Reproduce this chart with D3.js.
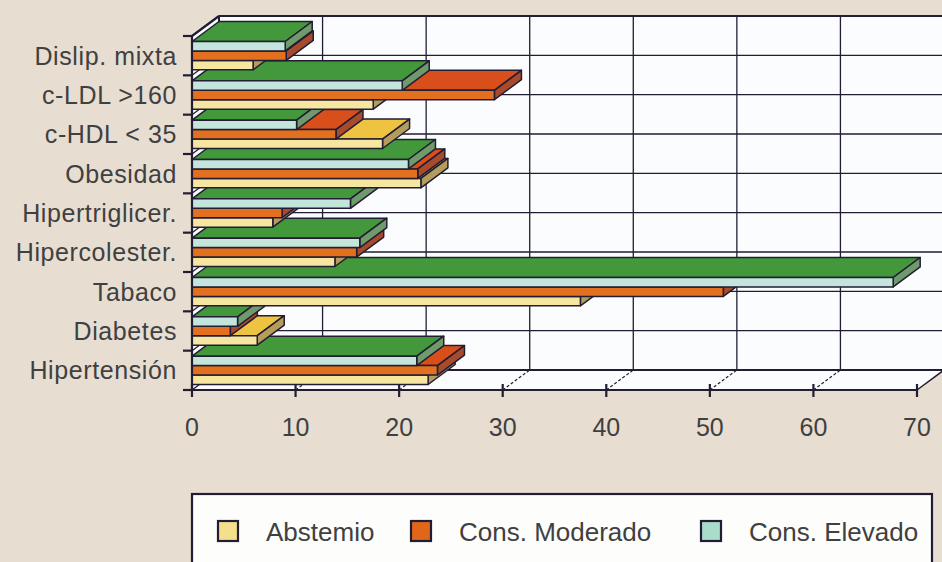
<!DOCTYPE html>
<html>
<head>
<meta charset="utf-8">
<script src="https://cdn.jsdelivr.net/npm/d3@7"></script>
<style>
  body { margin: 0; background: #e7ddd1; }
  text { font-family: "Liberation Sans", Arial, sans-serif; fill: #404040; }
</style>
</head>
<body>
<script>
// categorias de arriba hacia abajo
var categories = ["Dislip. mixta", "c-LDL >160", "c-HDL < 35", "Obesidad", "Hipertriglicer.",
                  "Hipercolester.", "Tabaco", "Diabetes", "Hipertensión"];
var series = ["Abstemio", "Cons. Moderado", "Cons. Elevado"];
var abstemio = [5.9, 17.5, 18.4, 22.1, 7.8, 13.8, 37.5, 6.3, 22.8];
var moderado = [9.1, 29.2, 13.9, 21.8, 8.7, 15.9, 51.3, 3.7, 23.7];
var elevado  = [9.0, 20.3, 10.1, 20.9, 15.3, 16.2, 67.7, 4.4, 21.7];
var xTicks = [0, 10, 20, 30, 40, 50, 60, 70];

var width = 942, height = 562;
var dx = 27, dy = -20;   // profundidad 3D
var dark = "#221d33";

var frontColor = {"Abstemio": "#f6e6a0", "Cons. Moderado": "#e2701f", "Cons. Elevado": "#c4e5dc"};
var topColor   = {"Abstemio": "#efc342", "Cons. Moderado": "#d94f1c", "Cons. Elevado": "#42983a"};
var sideColor  = {"Abstemio": "#b49c5c", "Cons. Moderado": "#a84a2c", "Cons. Elevado": "#6f9a6c"};
var legendColor = {"Abstemio": "#f4df8c", "Cons. Moderado": "#e0661a", "Cons. Elevado": "#a9dcc9"};

var values = {"Abstemio": abstemio, "Cons. Moderado": moderado, "Cons. Elevado": elevado};

var x = d3.scaleLinear().domain([0, 70]).range([192, 917]);
var y0 = d3.scaleBand().domain(categories).range([36, 390]);
var y1 = d3.scaleBand().domain(series.slice().reverse())
           .range([y0.step() * 0.14, y0.step() * 0.86]);

var yTop = y0.range()[0], yBot = y0.range()[1];
var bounds = d3.range(categories.length + 1).map(function(k){ return yTop + k * y0.step(); });

function poly(pts){
  return "M" + pts.map(function(p){ return p[0] + "," + p[1]; }).join("L") + "Z";
}

var svg = d3.select("body").append("svg")
  .attr("width", width)
  .attr("height", height);

svg.append("rect").attr("width", width).attr("height", height).attr("fill", "#e7ddd1");

// pared del fondo
svg.append("rect")
  .attr("x", x(0) + dx).attr("y", yTop + dy)
  .attr("width", 960 - x(0) - dx).attr("height", yBot - yTop)
  .attr("fill", "#fbfcfd");

// pared izquierda y suelo
svg.append("path")
  .attr("d", poly([[x(0), yTop], [x(0) + dx, yTop + dy], [x(0) + dx, yBot + dy], [x(0), yBot]]))
  .attr("fill", "#fbfcfd");
svg.append("path")
  .attr("d", poly([[x(0), yBot], [x(70), yBot], [x(70) + dx, yBot + dy], [x(0) + dx, yBot + dy]]))
  .attr("fill", "#fbfcfd");

var grid = svg.append("g").attr("stroke", dark).attr("fill", "none");

grid.selectAll(".hgrid")
  .data(bounds)
  .enter().append("line")
  .attr("x1", x(0) + dx).attr("x2", 960)
  .attr("y1", function(d){ return d + dy; })
  .attr("y2", function(d){ return d + dy; })
  .attr("stroke-width", function(d, i){ return (i == 0 || i == bounds.length - 1) ? 2 : 1.3; });

grid.selectAll(".vgrid")
  .data(xTicks)
  .enter().append("line")
  .attr("x1", function(d){ return x(d) + dx; })
  .attr("x2", function(d){ return x(d) + dx; })
  .attr("y1", yTop + dy).attr("y2", yBot + dy)
  .attr("stroke-width", function(d){ return d == 0 ? 2 : 1.3; });

grid.selectAll(".lwall")
  .data(bounds)
  .enter().append("line")
  .attr("x1", x(0)).attr("x2", x(0) + dx)
  .attr("y1", function(d){ return d; })
  .attr("y2", function(d){ return d + dy; })
  .attr("stroke-width", 1.3);

grid.selectAll(".floor")
  .data(xTicks.slice(1, -1))
  .enter().append("line")
  .attr("x1", function(d){ return x(d); })
  .attr("x2", function(d){ return x(d) + dx; })
  .attr("y1", yBot).attr("y2", yBot + dy)
  .attr("stroke-width", 1.2)
  .attr("stroke-dasharray", "3,2");

grid.append("line")
  .attr("x1", x(70)).attr("y1", yBot)
  .attr("x2", x(70) + dx).attr("y2", yBot + dy)
  .attr("stroke-width", 1.5);

// barras, de abajo hacia arriba
var bars = [];
categories.slice().reverse().forEach(function(c){
  var i = categories.indexOf(c);
  series.forEach(function(s){
    bars.push({cat: c, serie: s, value: values[s][i]});
  });
});

var barG = svg.append("g")
  .selectAll("g")
  .data(bars)
  .enter().append("g")
  .attr("stroke", dark)
  .attr("stroke-width", 1.5)
  .attr("stroke-linejoin", "round");

barG.each(function(d){
  var g = d3.select(this);
  var t = y0(d.cat) + y1(d.serie);
  var b = t + y1.bandwidth();
  var x0 = x(0), xe = x(d.value);
  g.append("path")
    .attr("d", poly([[x0, t], [xe, t], [xe + dx, t + dy], [x0 + dx, t + dy]]))
    .attr("fill", topColor[d.serie]);
  g.append("path")
    .attr("d", poly([[xe, t], [xe, b], [xe + dx, b + dy], [xe + dx, t + dy]]))
    .attr("fill", sideColor[d.serie]);
  g.append("rect")
    .attr("x", x0).attr("y", t)
    .attr("width", xe - x0).attr("height", b - t)
    .attr("fill", frontColor[d.serie]);
});

// ejes
var axis = svg.append("g").attr("stroke", dark).attr("stroke-width", 2.2);
axis.append("line")
  .attr("x1", x(0)).attr("x2", x(70))
  .attr("y1", yBot).attr("y2", yBot);
axis.append("line")
  .attr("x1", x(0)).attr("x2", x(0))
  .attr("y1", yTop).attr("y2", yBot);
axis.append("line")
  .attr("x1", x(0)).attr("y1", yTop)
  .attr("x2", x(0) + dx).attr("y2", yTop + dy);
axis.selectAll(".xtick")
  .data(xTicks)
  .enter().append("line")
  .attr("x1", function(d){ return x(d); })
  .attr("x2", function(d){ return x(d); })
  .attr("y1", yBot - 6).attr("y2", yBot + 7);
axis.selectAll(".ytick")
  .data(bounds)
  .enter().append("line")
  .attr("x1", x(0) - 9).attr("x2", x(0))
  .attr("y1", function(d){ return d; })
  .attr("y2", function(d){ return d; });

svg.append("g")
  .selectAll("text")
  .data(xTicks)
  .enter().append("text")
  .attr("x", function(d){ return x(d); })
  .attr("y", 436)
  .attr("text-anchor", "middle")
  .style("font-size", "25px")
  .text(function(d){ return d; });

svg.append("g")
  .selectAll("text")
  .data(categories)
  .enter().append("text")
  .attr("x", 177)
  .attr("y", function(d){ return y0(d) + y0.bandwidth() / 2; })
  .attr("dy", "0.36em")
  .attr("text-anchor", "end")
  .style("font-size", "25px")
  .style("letter-spacing", "0.6px")
  .text(function(d){ return d; });

// leyenda
var legend = svg.append("g");
legend.append("rect")
  .attr("x", 192).attr("y", 494)
  .attr("width", 740).attr("height", 90)
  .attr("fill", "#fdfdfc")
  .attr("stroke", dark).attr("stroke-width", 2.2);

var legX = {"Abstemio": 218, "Cons. Moderado": 411, "Cons. Elevado": 701};
var item = legend.selectAll(".item")
  .data(series)
  .enter().append("g")
  .attr("transform", function(d){ return "translate(" + legX[d] + ",521)"; });
item.append("rect")
  .attr("width", 20).attr("height", 20)
  .attr("fill", function(d){ return legendColor[d]; })
  .attr("stroke", dark).attr("stroke-width", 2.2);
item.append("text")
  .attr("x", 48).attr("y", 20)
  .style("font-size", "26px")
  .text(function(d){ return d; });
</script>
</body>
</html>
